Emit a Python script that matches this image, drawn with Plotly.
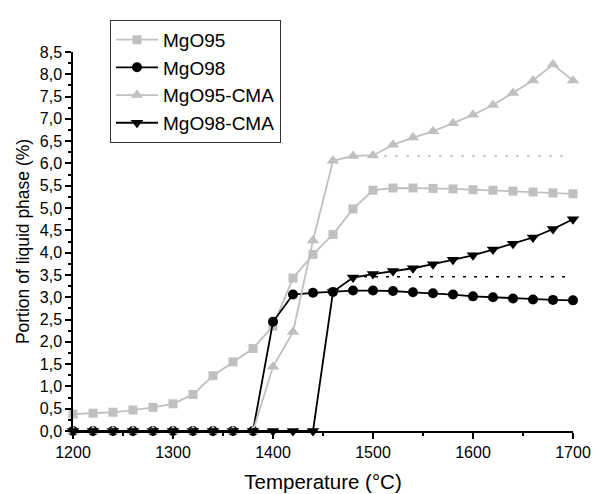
import plotly.graph_objects as go

# temperatures (°C)
temperature = list(range(1200, 1701, 20))

# portion of liquid phase (%)
mgo95 = [0.38, 0.40, 0.42, 0.47, 0.53, 0.61, 0.82, 1.24, 1.55, 1.85, 2.35, 3.43,
         3.96, 4.41, 4.98, 5.40, 5.45, 5.45, 5.44, 5.43, 5.41, 5.40, 5.38, 5.36,
         5.34, 5.32]
mgo98 = [0, 0, 0, 0, 0, 0, 0, 0, 0, 0, 2.45, 3.06, 3.10, 3.12, 3.15, 3.15,
         3.14, 3.11, 3.09, 3.06, 3.02, 3.00, 2.97, 2.95, 2.94, 2.93]
mgo95_cma = [0, 0, 0, 0, 0, 0, 0, 0, 0, 0, 1.44, 2.22, 4.27, 6.06, 6.17, 6.18,
             6.42, 6.58, 6.72, 6.90, 7.09, 7.31, 7.58, 7.86, 8.22, 7.86]
mgo98_cma = [0, 0, 0, 0, 0, 0, 0, 0, 0, 0, 0, 0, 0, 3.12, 3.44, 3.52, 3.59,
             3.65, 3.74, 3.84, 3.94, 4.07, 4.20, 4.34, 4.53, 4.75]

# dotted plateau guides
guide_gray_x = [1500, 1695]
guide_gray_y = [6.17, 6.17]
guide_black_x = [1480, 1695]
guide_black_y = [3.46, 3.46]

GRAY = "#C0C0C0"
BLACK = "#000000"

fig = go.Figure()

fig.add_trace(go.Scatter(x=guide_gray_x, y=guide_gray_y, mode="lines", showlegend=False,
                         line=dict(color=GRAY, width=1.5, dash="3px,8px")))
fig.add_trace(go.Scatter(x=guide_black_x, y=guide_black_y, mode="lines", showlegend=False,
                         line=dict(color=BLACK, width=1.5, dash="3px,8px")))

series = [
    ("MgO95", mgo95, GRAY, "square", 9),
    ("MgO98", mgo98, BLACK, "circle", 10),
    ("MgO95-CMA", mgo95_cma, GRAY, "triangle-up", 11),
    ("MgO98-CMA", mgo98_cma, BLACK, "triangle-down", 11),
]
for name, vals, color, symbol, size in series:
    fig.add_trace(go.Scatter(
        x=temperature, y=vals, mode="lines+markers", name=name, cliponaxis=False,
        line=dict(color=color, width=1.8),
        marker=dict(color=color, symbol=symbol, size=size),
    ))

# page body adds an 8px margin, so the figure is 8px smaller and shifted
fig.update_layout(
    width=592, height=486,
    margin=dict(l=65, r=27, t=21, b=63),
    plot_bgcolor="white", paper_bgcolor="white",
    font=dict(family="Liberation Sans, Arial, sans-serif", size=16, color="black"),
    separators=",.",
    legend=dict(x=0.074, y=1.085, xanchor="left", yanchor="top",
                bgcolor="white", bordercolor="#333", borderwidth=1,
                font=dict(size=19), tracegroupgap=0, itemwidth=42),
    xaxis=dict(
        range=[1200, 1700], dtick=100, tick0=1200, automargin=False,
        showline=True, linecolor="black", linewidth=1.5, showgrid=False, zeroline=False,
        ticks="outside", ticklen=6, tickwidth=1.5, tickcolor="black",
        minor=dict(ticks="outside", ticklen=3, dtick=50, tickcolor="black"),
        title=dict(text="Temperature (°C)", font=dict(size=20.5)),
    ),
    yaxis=dict(
        range=[0, 8.5], dtick=0.5, tick0=0, tickformat=".1f", automargin=False,
        showline=True, linecolor="black", linewidth=1.5, showgrid=False, zeroline=False,
        ticks="outside", ticklen=6, tickwidth=1.5, tickcolor="black",
        minor=dict(ticks="outside", ticklen=3, dtick=0.25, tickcolor="black"),
        title=dict(text="Portion of liquid phase (%)", font=dict(size=17.5), standoff=6),
    ),
)

fig.write_html("out.html")
